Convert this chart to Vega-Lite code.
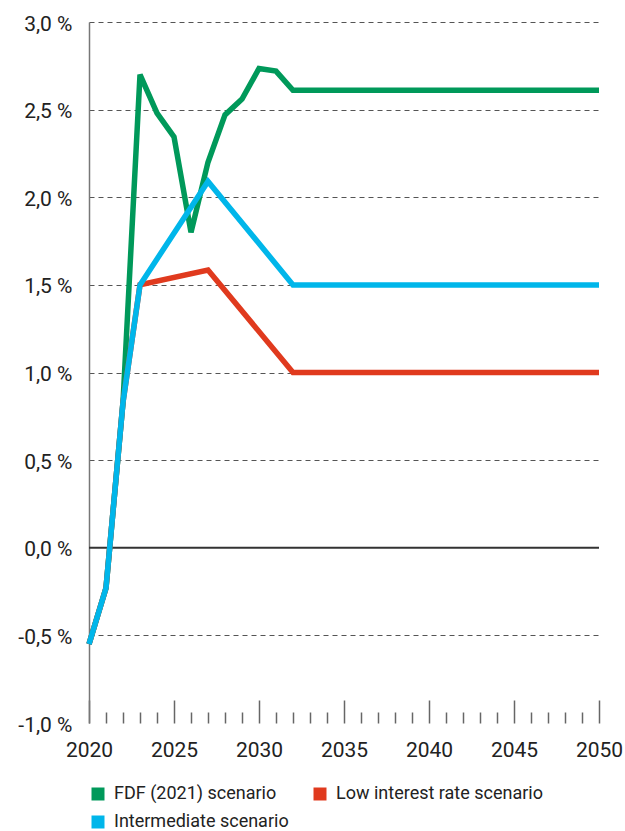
{
  "$schema": "https://vega.github.io/schema/vega-lite/v6.json",
  "width": 510,
  "height": 701,
  "autosize": {"type": "none"},
  "padding": {"left": 89, "top": 22, "right": 26, "bottom": 108},
  "config": {"view": {"stroke": null}, "font": "Roboto"},
  "data": {
    "values": [
      {"scenario": "FDF (2021) scenario", "year": 2020, "value": -0.55},
      {"scenario": "FDF (2021) scenario", "year": 2021, "value": -0.23},
      {"scenario": "FDF (2021) scenario", "year": 2022, "value": 0.83},
      {"scenario": "FDF (2021) scenario", "year": 2023, "value": 2.7},
      {"scenario": "FDF (2021) scenario", "year": 2024, "value": 2.48},
      {"scenario": "FDF (2021) scenario", "year": 2025, "value": 2.345},
      {"scenario": "FDF (2021) scenario", "year": 2026, "value": 1.8},
      {"scenario": "FDF (2021) scenario", "year": 2027, "value": 2.2},
      {"scenario": "FDF (2021) scenario", "year": 2028, "value": 2.47},
      {"scenario": "FDF (2021) scenario", "year": 2029, "value": 2.56},
      {"scenario": "FDF (2021) scenario", "year": 2030, "value": 2.735},
      {"scenario": "FDF (2021) scenario", "year": 2031, "value": 2.72},
      {"scenario": "FDF (2021) scenario", "year": 2032, "value": 2.61},
      {"scenario": "FDF (2021) scenario", "year": 2050, "value": 2.61},
      {"scenario": "Low interest rate scenario", "year": 2020, "value": -0.55},
      {"scenario": "Low interest rate scenario", "year": 2021, "value": -0.23},
      {"scenario": "Low interest rate scenario", "year": 2022, "value": 0.83},
      {"scenario": "Low interest rate scenario", "year": 2023, "value": 1.5},
      {"scenario": "Low interest rate scenario", "year": 2027, "value": 1.585},
      {"scenario": "Low interest rate scenario", "year": 2032, "value": 1.0},
      {"scenario": "Low interest rate scenario", "year": 2050, "value": 1.0},
      {"scenario": "Intermediate scenario", "year": 2020, "value": -0.55},
      {"scenario": "Intermediate scenario", "year": 2021, "value": -0.23},
      {"scenario": "Intermediate scenario", "year": 2022, "value": 0.83},
      {"scenario": "Intermediate scenario", "year": 2023, "value": 1.5},
      {"scenario": "Intermediate scenario", "year": 2027, "value": 2.09},
      {"scenario": "Intermediate scenario", "year": 2032, "value": 1.5},
      {"scenario": "Intermediate scenario", "year": 2050, "value": 1.5}
    ]
  },
  "layer": [
    {
      "data": {"values": [{"zero": 0}]},
      "mark": {"type": "rule", "color": "#333333", "strokeWidth": 2},
      "encoding": {"y": {"field": "zero", "type": "quantitative"}}
    },
    {
      "encoding": {
        "x": {
          "field": "year", "type": "quantitative",
          "scale": {"domain": [2020, 2050], "nice": false, "zero": false},
          "axis": {
            "title": null,
            "values": [2020,2021,2022,2023,2024,2025,2026,2027,2028,2029,2030,2031,2032,2033,2034,2035,2036,2037,2038,2039,2040,2041,2042,2043,2044,2045,2046,2047,2048,2049,2050],
            "domain": false,
            "grid": false,
            "tickColor": "#666666",
            "tickWidth": 1.5,
            "tickSize": {"condition": {"test": "datum.value % 5 === 0", "value": -23}, "value": -11},
            "labelExpr": "datum.value % 5 === 0 ? format(datum.value, 'd') : ''",
            "labelFontSize": 21,
            "labelColor": "#222222",
            "labelPadding": 39,
            "labelFlush": false,
            "labelOverlap": false,
            "labelBaseline": "top"
          }
        },
        "y": {
          "field": "value", "type": "quantitative",
          "scale": {"domain": [-1, 3], "nice": false, "zero": false},
          "axis": {
            "title": null,
            "values": [-1, -0.5, 0, 0.5, 1, 1.5, 2, 2.5, 3],
            "ticks": false,
            "domainColor": "#777777",
            "domainWidth": 1.5,
            "gridColor": "#555555",
            "gridDash": [5, 4],
            "gridWidth": 1,
            "gridOpacity": {"condition": {"test": "datum.value === -1 || datum.value === 0", "value": 0}, "value": 1},
            "labelExpr": "(datum.value < 0 ? '-' : '') + replace(format(abs(datum.value), '.1f'), '.', ',') + ' %'",
            "labelFontSize": 21,
            "labelColor": "#222222",
            "labelPadding": 17,
            "labelOffset": 2
          }
        },
        "color": {
          "field": "scenario", "type": "nominal",
          "scale": {
            "domain": ["FDF (2021) scenario", "Low interest rate scenario", "Intermediate scenario"],
            "range": ["#00995a", "#e03a1e", "#00b6ea"]
          },
          "legend": {
            "title": null,
            "orient": "none",
            "legendX": 0,
            "legendY": 763,
            "direction": "horizontal",
            "columns": 2,
            "symbolType": "square",
            "symbolSize": 169,
            "symbolStrokeWidth": 0,
            "labelFontSize": 18,
            "labelLimit": 400,
            "labelColor": "#222222",
            "labelOffset": 7,
            "columnPadding": 22,
            "rowPadding": 10,
            "padding": 0,
            "encode": {"symbols": {"update": {"fill": {"scale": "color", "field": "value"}, "stroke": {"value": "transparent"}, "opacity": {"value": 1}}}}
          }
        }
      },
      "layer": [
        {
          "transform": [{"filter": "datum.scenario === 'FDF (2021) scenario'"}],
          "mark": {"type": "line", "strokeWidth": 5.5, "strokeJoin": "miter"}
        },
        {
          "transform": [{"filter": "datum.scenario === 'Low interest rate scenario'"}],
          "mark": {"type": "line", "strokeWidth": 5.5, "strokeJoin": "miter"}
        },
        {
          "transform": [{"filter": "datum.scenario === 'Intermediate scenario'"}],
          "mark": {"type": "line", "strokeWidth": 5.5, "strokeJoin": "miter"}
        }
      ]
    }
  ]
}
